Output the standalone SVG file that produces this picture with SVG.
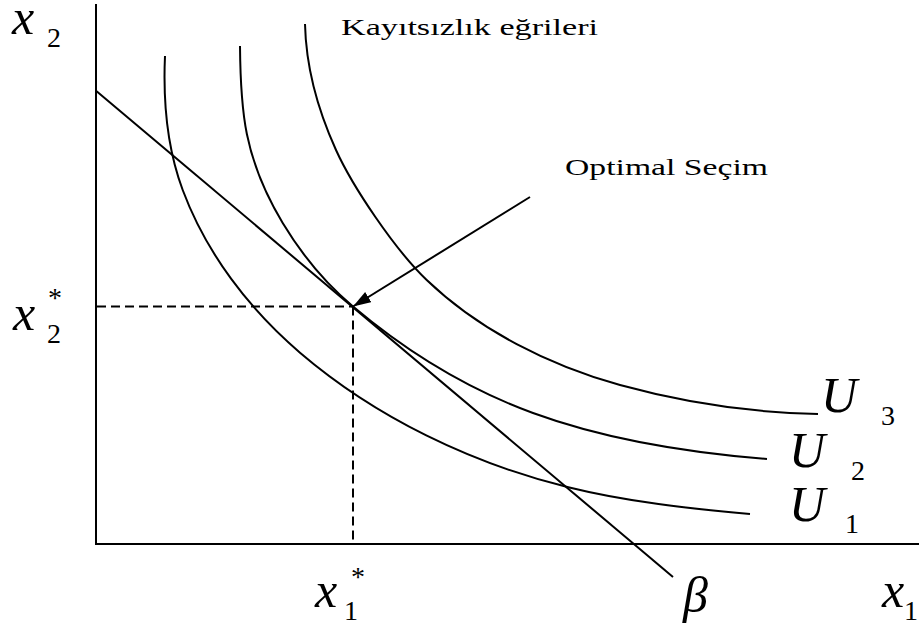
<svg xmlns="http://www.w3.org/2000/svg" width="923" height="633" viewBox="0 0 923 633">
<style>
.ln{fill:none;stroke:#000;stroke-width:2}
.ds{fill:none;stroke:#000;stroke-width:2;stroke-dasharray:9 5}
.it{font-family:'Liberation Serif',Tinos,'Times New Roman',Times,serif;font-style:italic;font-size:50px;fill:#000}
.sb{font-family:'Liberation Serif',Tinos,'Times New Roman',Times,serif;font-size:28px;fill:#000}
.tx{font-family:'Liberation Serif',Tinos,'Times New Roman',Times,serif;font-size:24px;fill:#000}
</style>
<defs>
<marker id="ah" markerUnits="userSpaceOnUse" markerWidth="20" markerHeight="14" refX="18" refY="6" orient="auto">
<path d="M0,0 L18,6 L0,12 Z" fill="#000"/>
</marker>
</defs>
<rect width="923" height="633" fill="#fff"/>
<g id="axes">
<line class="ln" x1="96" y1="4" x2="96" y2="545"/>
<line class="ln" x1="95" y1="544" x2="919" y2="544"/>
</g>
<g id="guides">
<line class="ds" x1="97" y1="306.5" x2="353" y2="306.5"/>
<line class="ds" x1="353" y1="306.5" x2="353" y2="543"/>
</g>
<g id="budget">
<line class="ln" x1="96" y1="90.7" x2="673" y2="577"/>
</g>
<g id="U1">
<path class="ln" d="M165,56 C163,101 167,148 182.7,190 C206.2,253 249,309.2 300,352.7 C376,417.7 471.3,463.3 568.3,487.3 C627.5,502 689,508.5 750,514"/>
</g>
<g id="U2">
<path class="ln" d="M240,46 C240.5,110 243.7,158.5 282.7,223 C301.4,254 325.5,283.3 353,306.5 C406.5,351.6 467.3,388.9 533,413 C607.2,440.2 688.3,452.7 767,459"/>
</g>
<g id="U3">
<path class="ln" d="M305,24 C306,67 318.2,110.8 336,150 C352.5,186.4 394.3,249 426.7,280 C479.3,330.4 549.6,365.6 620,385 C684.6,402.8 751,412.7 818,414"/>
</g>
<g id="connectors">
<line class="ln" x1="530" y1="197" x2="353" y2="306.5" marker-end="url(#ah)"/>
</g>
<g id="labels">
<text class="tx" x="341" y="35" textLength="257" lengthAdjust="spacingAndGlyphs">Kayıtsızlık eğrileri</text>
<text class="tx" x="565" y="175" textLength="203" lengthAdjust="spacingAndGlyphs">Optimal Seçim</text>
<text class="it" x="12" y="34">x</text><text class="sb" x="47" y="47">2</text>
<text class="it" x="13" y="330">x</text><text class="sb" x="48" y="307">*</text><text class="sb" x="47" y="343">2</text>
<text class="it" x="315" y="607">x</text><text class="sb" x="351" y="586">*</text><text class="sb" x="344" y="620">1</text>
<text class="it" x="683" y="612">β</text>
<text class="it" x="882" y="607">x</text><text class="sb" x="904" y="620">1</text>
<text class="it" x="821" y="412">U</text><text class="sb" x="881" y="425">3</text>
<text class="it" x="789" y="467">U</text><text class="sb" x="851" y="480">2</text>
<text class="it" x="789" y="521">U</text><text class="sb" x="845" y="533">1</text>
</g>
</svg>
